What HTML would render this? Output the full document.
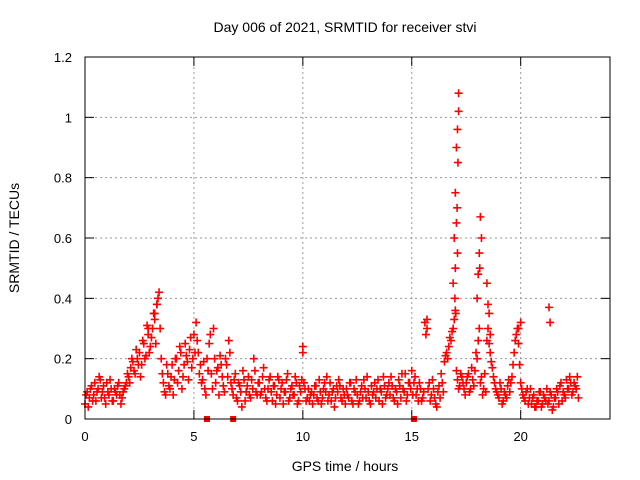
<!DOCTYPE html>
<html><head><meta charset="utf-8"><style>
body{margin:0;background:#fff;}
svg{display:block;font-family:"Liberation Sans",sans-serif;}
</style></head><body>
<svg id="chart" width="640" height="480">
<text x="345" y="32" text-anchor="middle" font-size="14">Day 006 of 2021, SRMTID for receiver stvi</text>
<text x="345" y="471" text-anchor="middle" font-size="14">GPS time / hours</text>
<text transform="translate(19,238) rotate(-90)" text-anchor="middle" font-size="14">SRMTID / TECUs</text>
<g id="grid"></g><g id="ticks"></g><g id="marks"></g>
<rect x="85" y="57" width="525" height="362" fill="none" stroke="#000"/>
</svg>
<script>
const xTicks=[0,5,10,15,20];
const yTicks=[0,0.2,0.4,0.6,0.8,1,1.2];
const yTickLabels=["0","0.2","0.4","0.6","0.8","1","1.2"];
const step=0.1;
const values=[0.05,0.09,0.07,0.11,0.08,0.06,0.1,0.13,0.09,0.07,0.12,0.08,0.1,0.06,0.09,0.11,0.08,0.07,0.1,0.12,
0.14,0.17,0.19,0.15,0.2,0.22,0.18,0.25,0.21,0.28,0.24,0.3,0.33,0.38,0.42,
0.2,0.12,0.08,0.15,0.1,0.18,0.13,0.2,0.16,0.22,0.14,0.25,0.19,0.23,0.17,
0.28,0.32,0.22,0.18,0.13,0.1,0.2,0.25,0.15,0.3,0.12,0.17,0.21,0.14,0.09,
0.18,0.26,0.12,0.08,0.15,0.06,0.11,0.04,0.13,0.09,0.14,0.07,0.1,0.16,0.08,
0.12,0.09,0.17,0.07,0.1,0.14,0.06,0.11,0.08,0.13,0.1,0.05,0.09,0.15,0.07,0.11,0.08,0.12,0.06,0.09,
0.22,0.1,0.07,0.06,0.09,0.08,0.11,0.06,0.09,0.07,0.12,0.14,0.08,0.06,0.1,0.07,0.09,0.11,0.06,0.08,
0.1,0.07,0.12,0.05,0.09,0.08,0.06,0.11,0.13,0.07,0.09,0.05,0.08,0.12,0.1,0.06,0.09,0.14,0.07,0.1,0.08,0.11,0.06,0.09,0.13,0.07,0.1,0.15,0.08,0.12,
0.16,0.12,0.08,0.06,0.1,0.07,0.32,0.3,0.12,0.08,0.1,0.05,0.09,0.07,0.12,
0.19,0.22,0.24,0.26,0.3,0.36,0.13,0.11,0.14,0.1,
0.12,0.15,0.1,0.13,0.16,0.2,0.3,0.14,0.1,0.09,
0.3,0.22,0.17,0.12,0.09,0.07,0.1,0.06,0.08,0.11,
0.09,0.14,0.22,0.28,0.25,0.12,0.08,0.06,0.1,0.07,
0.05,0.08,0.04,0.06,0.09,0.05,0.07,0.1,0.06,0.08,0.04,0.07,0.09,0.11,0.06,0.08,0.13,0.1,0.12,0.09,0.11,0.14];
const values2=[0.08,0.04,0.1,0.06,0.12,0.09,0.14,0.07,0.11,0.05,0.09,0.13,0.06,0.1,0.08,0.12,0.05,0.09,0.11,0.15,
0.12,0.2,0.16,0.23,0.18,0.14,0.26,0.2,0.31,0.22,0.27,0.35,0.25,0.4,0.3,
0.15,0.09,0.18,0.11,0.14,0.08,0.2,0.12,0.24,0.1,0.18,0.21,0.13,0.27,0.2,
0.22,0.26,0.15,0.12,0.19,0.08,0.16,0.28,0.1,0.2,0.16,0.08,0.18,0.11,0.2,
0.14,0.22,0.1,0.13,0.07,0.12,0.09,0.16,0.06,0.11,0.08,0.13,0.2,0.09,0.12,
0.08,0.14,0.1,0.06,0.13,0.09,0.11,0.05,0.14,0.07,0.12,0.09,0.13,0.06,0.1,0.08,0.14,0.05,0.11,0.13,
0.12,0.06,0.1,0.08,0.05,0.11,0.07,0.13,0.05,0.1,0.09,0.06,0.12,0.09,0.04,0.11,0.13,0.07,0.1,0.05,
0.08,0.12,0.06,0.1,0.13,0.05,0.09,0.07,0.1,0.14,0.06,0.11,0.09,0.07,0.13,0.1,0.05,0.11,0.08,0.12,0.14,0.07,0.1,0.05,0.11,0.15,0.09,0.06,0.12,0.1,
0.08,0.14,0.1,0.12,0.06,0.09,0.28,0.1,0.06,0.13,0.07,0.04,0.11,0.15,0.09,
0.21,0.2,0.27,0.29,0.33,0.16,0.1,0.15,0.12,0.08,
0.14,0.09,0.17,0.11,0.22,0.26,0.12,0.08,0.15,0.26,
0.25,0.19,0.14,0.1,0.08,0.12,0.05,0.09,0.07,0.13,
0.12,0.18,0.26,0.3,0.18,0.1,0.07,0.09,0.05,0.1,
0.07,0.04,0.06,0.09,0.04,0.08,0.06,0.05,0.09,0.03,0.07,0.1,0.05,0.12,0.09,0.07,0.1,0.14,0.08,0.12,0.1,0.07];
const spikeTimes=[16.9,16.95,17.0,17.05,17.1,17.15,17.15,17.05,17.0,17.1,17.12,17.02,16.98,17.08,18.0,18.1,18.15,18.05,18.2,18.12,18.5,18.55,18.45,18.6,21.3,21.35,20.0,19.9,3.3,3.2,10.0,15.7,2.9];
const spikeVals=[0.45,0.6,0.75,0.9,0.96,1.08,1.02,0.65,0.5,0.55,0.85,0.35,0.4,0.7,0.4,0.55,0.67,0.48,0.6,0.5,0.38,0.35,0.45,0.28,0.37,0.32,0.32,0.3,0.38,0.35,0.24,0.33,0.3];
const zeroTimes=[5.6,6.8,15.1];
const NS="http://www.w3.org/2000/svg";
const X=t=>85+t*(525/24.1);
const Y=v=>419-v*(362/1.2);
function el(tag,attrs,parent){const e=document.createElementNS(NS,tag);for(const k in attrs)e.setAttribute(k,attrs[k]);parent.appendChild(e);return e;}
const grid=document.getElementById('grid'),ticks=document.getElementById('ticks'),marks=document.getElementById('marks');
xTicks.forEach(t=>{
  if(t>0){const g=el('line',{x1:X(t),x2:X(t),y1:57,y2:419,stroke:'#999','stroke-dasharray':'2,3'},grid);
  
  }
  el('line',{x1:X(t),x2:X(t),y1:419,y2:410,stroke:'#000'},ticks);
  el('line',{x1:X(t),x2:X(t),y1:57,y2:66,stroke:'#000'},ticks);
  const l=el('text',{x:X(t),y:441,'text-anchor':'middle','font-size':13},ticks);l.textContent=t;
  
  
});
yTicks.forEach((v,i)=>{
  if(v>0&&v<1.2){const g=el('line',{x1:85,x2:610,y1:Y(v),y2:Y(v),stroke:'#999','stroke-dasharray':'2,3'},grid);
  
  }
  el('line',{x1:85,x2:94,y1:Y(v),y2:Y(v),stroke:'#000'},ticks);
  el('line',{x1:601,x2:610,y1:Y(v),y2:Y(v),stroke:'#000'},ticks);
  const l=el('text',{x:72,y:Y(v)+5,'text-anchor':'end','font-size':13},ticks);l.textContent=yTickLabels[i];
  
  
});
function plus(t,v){const x=X(t),y=Y(v);
  const p=el('path',{d:`M${x-4},${y}h8M${x},${y-4}v8`,stroke:'#f00','stroke-width':1.6,fill:'none'},marks);
  
  }
values.forEach((v,i)=>plus(i*step,v));
values2.forEach((v,i)=>plus(i*step+0.05,v));
spikeTimes.forEach((t,i)=>plus(t,spikeVals[i]));
zeroTimes.forEach(t=>{const r=el('rect',{x:X(t)-3,y:416,width:6,height:6,fill:'#f00'},marks);
  
  });
</script>
</body></html>
